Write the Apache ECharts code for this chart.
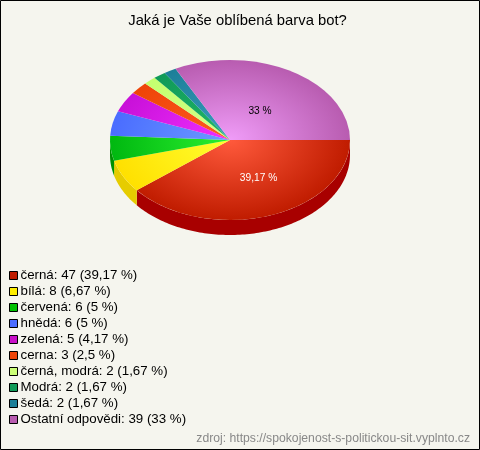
<!DOCTYPE html>
<html><head><meta charset="utf-8">
<style>html,body{margin:0;padding:0;background:#f5f5ee}#c{width:480px;height:450px}</style>
<script src="https://cdn.jsdelivr.net/npm/echarts@6/dist/echarts.min.js"></script>
</head><body><div id="c"></div>
<script>
const categories=['černá','bílá','červená','hnědá','zelená','cerna','černá, modrá','Modrá','šedá','Ostatní odpovědi'];
const counts=[47,8,6,6,5,3,2,2,2,39];
const percents=['39,17 %','6,67 %','5 %','5 %','4,17 %','2,5 %','1,67 %','1,67 %','1,67 %','33 %'];
const edgeColors=['#c01c00','#ffe000','#00b810','#4a6cff','#c810d8','#ee4408','#c4ff70','#109a58','#1c7f98','#b85cb0'];
const lightColors=['#ff5a3c','#ffff30','#2cf030','#6c9cff','#f030ff','#ff5a20','#d4ff88','#20b868','#3a9cc0','#f09cf8'];
const wallColors=['#a80000','#e6cc00','#009000','#2040c0','#9000a0','#b03000','#90c040','#007040','#005870','#804080'];
const legendColors=['#c01c00','#ffee00','#00c000','#4a6cff','#c810c8','#ee4408','#ccff77','#109a58','#1c7f98','#b85cb0'];
const inlineLabels={0:{dx:28.5,dy:38,color:'#ffffff'},9:{dx:30,dy:-29,color:'#000000'}};
const total=counts.reduce((a,b)=>a+b,0);
const CX=230,CY=140,RX=120,RY=80,DEPTH=15;
const starts=[];let acc=0;counts.forEach(v=>{starts.push(acc);acc+=v;});
const ang=v=>v/total*Math.PI*2;
function renderer(i){
  return function(){
    const a0=ang(starts[i]),a1=ang(starts[i]+counts[i]);
    const children=[];
    const w0=Math.min(a0,Math.PI),w1=Math.min(a1,Math.PI);
    if(w1>w0){
      const top=[],bottom=[];
      const n=Math.max(2,Math.ceil((w1-w0)/0.02));
      for(let k=0;k<=n;k++){
        const t=w0+(w1-w0)*k/n;
        const x=CX+RX*Math.cos(t),y=CY+RY*Math.sin(t);
        top.push([x,y]);bottom.unshift([x,y+DEPTH]);
      }
      children.push({type:'polygon',shape:{points:top.concat(bottom)},style:{fill:wallColors[i]},silent:true});
    }
    children.push({type:'sector',x:CX,y:CY,scaleY:RY/RX,
      shape:{cx:0,cy:0,r0:0,r:RX,startAngle:a0,endAngle:a1,clockwise:true},
      style:{fill:{type:'radial',x:0,y:0,r:RX,global:true,colorStops:[{offset:0,color:lightColors[i]},{offset:1,color:edgeColors[i]}]}},silent:true});
    const l=inlineLabels[i];
    if(l)children.push({type:'text',x:CX+l.dx,y:CY+l.dy,z2:50,style:{text:percents[i],fill:l.color,font:'10.2px Arial, "Liberation Sans"',align:'center',verticalAlign:'middle'},silent:true});
    return {type:'group',children};
  };
}
const chart=echarts.init(document.getElementById('c'),null,{renderer:'canvas'});
chart.setOption({
  animation:false,
  backgroundColor:'#f5f5ee',
  title:{text:'Jaká je Vaše oblíbená barva bot?',left:232.5,top:8,padding:5,textAlign:'center',
    textStyle:{color:'#000',fontSize:14.8,fontWeight:'normal',fontFamily:'Arial, "Liberation Sans"'}},
  legend:{orient:'vertical',left:9,top:269,padding:0,itemWidth:8,itemHeight:8,itemGap:3,icon:'rect',selectedMode:false,
    data:categories,
    itemStyle:{borderColor:'#000',borderWidth:1},
    textStyle:{color:'#000',fontSize:13.3,fontFamily:'Arial, "Liberation Sans"',padding:[0,0,0,-2]},
    formatter:n=>{const i=categories.indexOf(n);return n+': '+counts[i]+' ('+percents[i]+')';}},
  graphic:[
    {type:'rect',silent:true,z:100,shape:{x:0.5,y:0.5,width:479,height:449},style:{fill:'none',stroke:'#000',lineWidth:1}},
    {type:'text',silent:true,right:10,top:433,style:{text:'zdroj: https://spokojenost-s-politickou-sit.vyplnto.cz',fill:'#888',font:'12.2px Arial, "Liberation Sans"'}}
  ],
  tooltip:{show:false},
  series:categories.map((name,i)=>({type:'custom',name,coordinateSystem:'none',silent:true,
    itemStyle:{color:legendColors[i]},data:[[counts[i]]],renderItem:renderer(i)}))
});
</script></body></html>
